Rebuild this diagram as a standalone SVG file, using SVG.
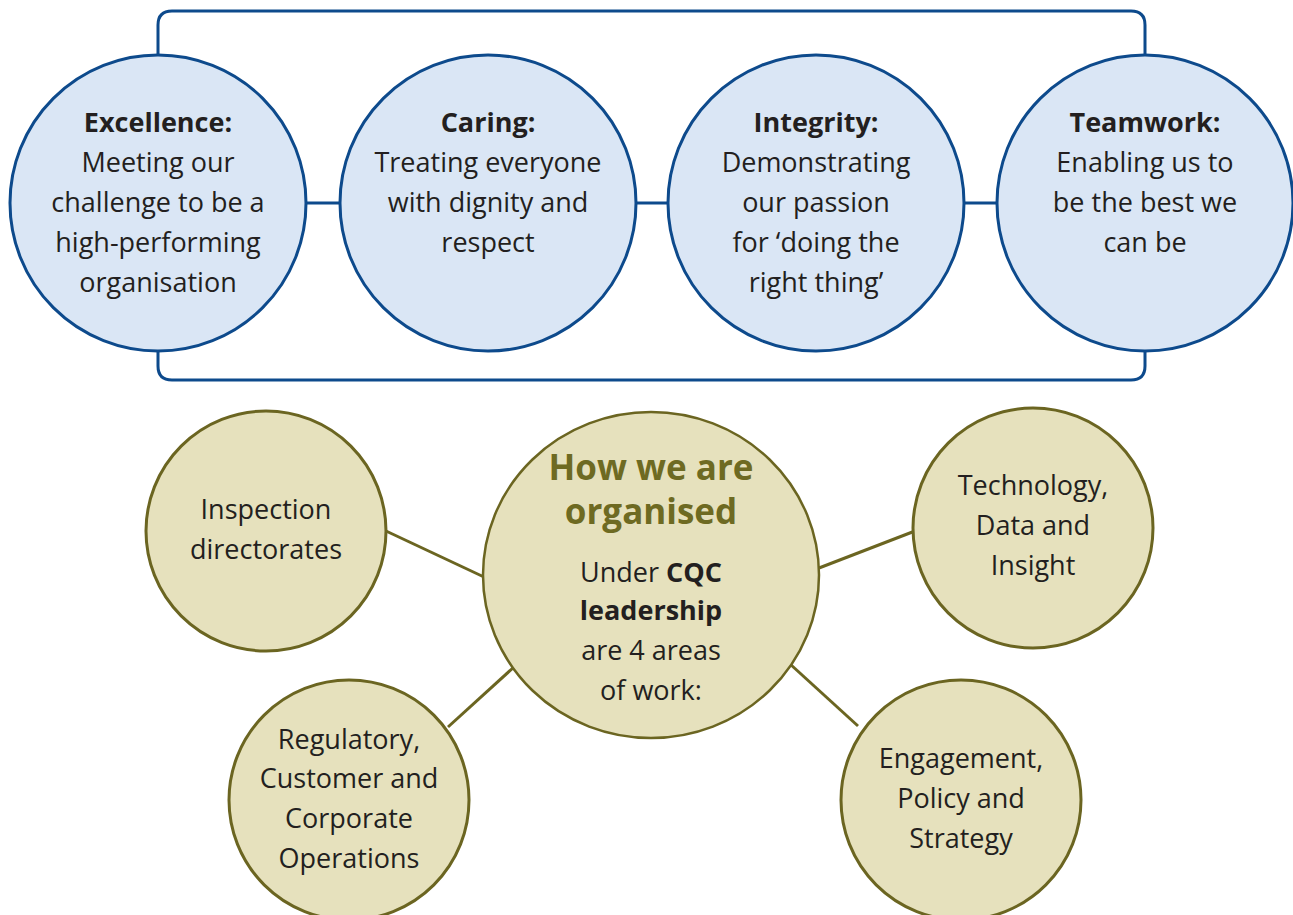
<svg xmlns="http://www.w3.org/2000/svg" width="1293" height="915" viewBox="0 0 1293 915">
  <style>
    .val { fill: #dae6f5; stroke: #0d4a8c; stroke-width: 3; }
    .vlink { fill: none; stroke: #0d4a8c; stroke-width: 3; }
    .org { fill: #e6e1bd; stroke: #6b6521; stroke-width: 3; }
    .olink { fill: none; stroke: #6b6521; stroke-width: 3; }
    text { font-family: "Open Sans", "Noto Sans", sans-serif; fill: #231f20; text-anchor: middle; }
    .t { font-size: 27px; }
    .b { font-weight: bold; }
    .head { font-size: 35px; font-weight: bold; fill: #6e6a22; }
  </style>

  <!-- values frame and links -->
  <g id="connectors">
    <path class="vlink" d="M158 56 V25 Q158 11 172 11 H1131 Q1145 11 1145 25 V56"/>
    <path class="vlink" d="M158 351 V366 Q158 380 172 380 H1131 Q1145 380 1145 366 V351"/>
    <line class="vlink" x1="306" y1="203" x2="340" y2="203"/>
    <line class="vlink" x1="636" y1="203" x2="668" y2="203"/>
    <line class="vlink" x1="964" y1="203" x2="998" y2="203"/>
    <line class="olink" x1="386" y1="531" x2="484" y2="577"/>
    <line class="olink" x1="819" y1="568" x2="915" y2="531"/>
    <line class="olink" x1="448" y1="727" x2="514" y2="667"/>
    <line class="olink" x1="790" y1="664" x2="858" y2="726"/>
  </g>

  <g id="excellence">
    <circle class="val" cx="158" cy="203" r="148"/>
    <text class="t" x="158" y="132"><tspan class="b">Excellence:</tspan><tspan x="158" y="172">Meeting our</tspan><tspan x="158" y="212">challenge to be a</tspan><tspan x="158" y="252">high-performing</tspan><tspan x="158" y="292">organisation</tspan></text>
  </g>
  <g id="caring">
    <circle class="val" cx="488" cy="203" r="148"/>
    <text class="t" x="488" y="132"><tspan class="b">Caring:</tspan><tspan x="488" y="172">Treating everyone</tspan><tspan x="488" y="212">with dignity and</tspan><tspan x="488" y="252">respect</tspan></text>
  </g>
  <g id="integrity">
    <circle class="val" cx="816" cy="203" r="148"/>
    <text class="t" x="816" y="132"><tspan class="b">Integrity:</tspan><tspan x="816" y="172">Demonstrating</tspan><tspan x="816" y="212">our passion</tspan><tspan x="816" y="252">for ‘doing the</tspan><tspan x="816" y="292">right thing’</tspan></text>
  </g>
  <g id="teamwork">
    <circle class="val" cx="1145" cy="203" r="148"/>
    <text class="t" x="1145" y="132"><tspan class="b">Teamwork:</tspan><tspan x="1145" y="172">Enabling us to</tspan><tspan x="1145" y="212">be the best we</tspan><tspan x="1145" y="252">can be</tspan></text>
  </g>

  <g id="organised">
    <ellipse class="org" cx="651" cy="575" rx="168" ry="163" style="stroke-width:2.5"/>
    <text class="head" x="651" y="480">How we are</text>
    <text class="head" x="651" y="524">organised</text>
    <text class="t" x="651" y="582">Under <tspan class="b">CQC</tspan><tspan class="b" x="651" y="620">leadership</tspan><tspan x="651" y="660">are 4 areas</tspan><tspan x="651" y="700">of work:</tspan></text>
  </g>
  <g id="inspection">
    <circle class="org" cx="266" cy="531" r="120"/>
    <text class="t" x="266" y="519">Inspection<tspan x="266" y="559">directorates</tspan></text>
  </g>
  <g id="technology">
    <circle class="org" cx="1033" cy="528" r="120"/>
    <text class="t" x="1033" y="495">Technology,<tspan x="1033" y="535">Data and</tspan><tspan x="1033" y="575">Insight</tspan></text>
  </g>
  <g id="regulatory">
    <circle class="org" cx="349" cy="800" r="120"/>
    <text class="t" x="349" y="749">Regulatory,<tspan x="349" y="788">Customer and</tspan><tspan x="349" y="828">Corporate</tspan><tspan x="349" y="868">Operations</tspan></text>
  </g>
  <g id="engagement">
    <circle class="org" cx="961" cy="800" r="120"/>
    <text class="t" x="961" y="768">Engagement,<tspan x="961" y="808">Policy and</tspan><tspan x="961" y="848">Strategy</tspan></text>
  </g>
</svg>
